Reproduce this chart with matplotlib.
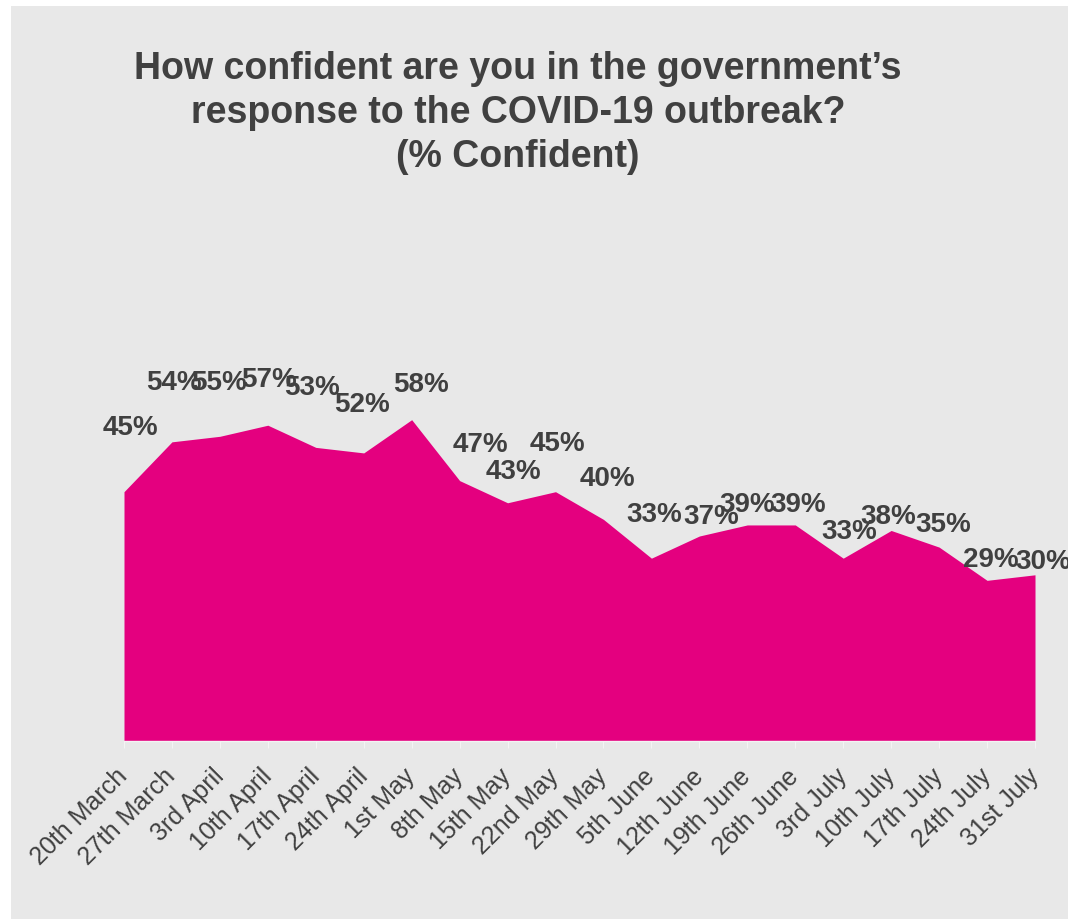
import matplotlib.pyplot as plt
from matplotlib.patches import Rectangle

plt.rcParams['font.family'] = ['Liberation Sans', 'DejaVu Sans']

weeks = ['20th March', '27th March', '3rd April', '10th April', '17th April',
         '24th April', '1st May', '8th May', '15th May', '22nd May', '29th May',
         '5th June', '12th June', '19th June', '26th June', '3rd July',
         '10th July', '17th July', '24th July', '31st July']
confident = [45, 54, 55, 57, 53, 52, 58, 47, 43, 45, 40,
             33, 37, 39, 39, 33, 38, 35, 29, 30]

# label offsets from each point, in pixels (dx right, dy up)
label_dx = [6, 2, -1, 1, -4, -2, 9, 21, 6, 2, 4, 3, 12, 0, 3, 6, -3, 4, 4, 8]
label_dy = [64, 59, 53, 45, 59, 48, 35, 36, 31, 48, 40, 43, 19, 20, 20, 26, 13, 22, 20, 13]

W, H = 1068, 919
fig = plt.figure(figsize=(W / 100, H / 100), dpi=100)
fig.patch.set_facecolor('white')
fig.patches.append(Rectangle((11 / W, 0), 1 - 11 / W, 1 - 6 / H,
                             transform=fig.transFigure, facecolor='#e8e8e8',
                             edgecolor='none', zorder=-10))

px_per_unit = 5.54
ax_left, ax_right, ax_base = 124, 1035, 741
ymax = 60
ax = fig.add_axes([ax_left / W, (H - ax_base) / H, (ax_right - ax_left) / W,
                   ymax * px_per_unit / H])
ax.set_facecolor('none')

x = list(range(len(weeks)))
ax.fill_between(x, confident, 0, color='#e4007f', linewidth=0)
ax.set_xlim(0, len(weeks) - 1)
ax.set_ylim(0, ymax)

for i, v in enumerate(confident):
    ax.annotate(f'{v}%', (i, v), xytext=(label_dx[i], label_dy[i]),
                textcoords='offset pixels', ha='center', va='center',
                fontsize=20, fontweight='bold', color='#404040',
                annotation_clip=False)

for s in ['top', 'right', 'left']:
    ax.spines[s].set_visible(False)
ax.spines['bottom'].set_color('#f4f4f4')
ax.spines['bottom'].set_linewidth(1)
ax.set_yticks([])
ax.set_xticks(x)
ax.set_xticklabels(weeks, rotation=45, ha='right', va='center',
                   rotation_mode='anchor', fontsize=18, color='#404040')
ax.tick_params(axis='x', length=5, color='#f4f4f4', pad=18)

fig.text(518 / W, 1 - 113 / H,
         "How confident are you in the government\u2019s\n"
         "response to the COVID-19 outbreak?\n(% Confident)",
         ha='center', va='center', multialignment='center',
         fontsize=27, fontweight='bold', color='#404040', linespacing=1.27)

fig.savefig('out.png', dpi=100)
